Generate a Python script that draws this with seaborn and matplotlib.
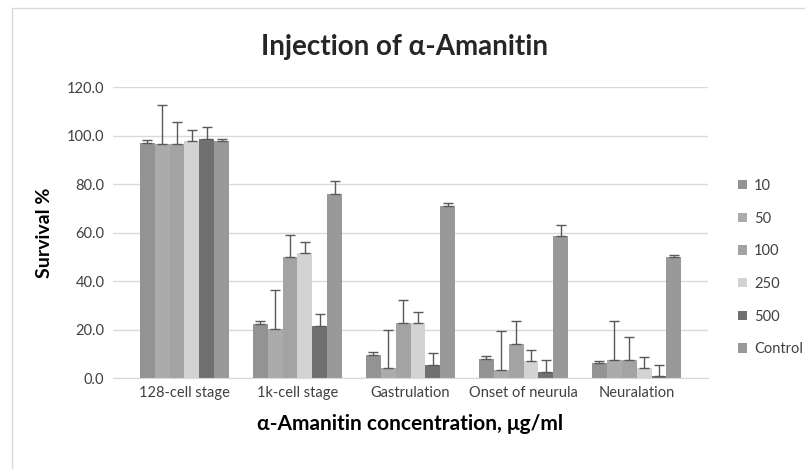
"""
Survival after injection of alpha-Amanitin, grouped bars with upper error bars.
"""

import numpy as np
import pandas as pd
import seaborn as sns
import matplotlib.pyplot as plt
from matplotlib.patches import Rectangle

stages = ['128-cell stage', '1k-cell stage', 'Gastrulation',
          'Onset of neurula', 'Neuralation']
doses = ['10', '50', '100', '250', '500', 'Control']

# survival % per dose, one value per stage
surv_10 = [96.9, 22.1, 9.5, 8.0, 6.0]
surv_50 = [96.6, 20.3, 4.0, 3.3, 7.4]
surv_100 = [96.6, 49.8, 22.7, 14.2, 7.4]
surv_250 = [97.7, 51.7, 22.7, 7.0, 4.3]
surv_500 = [98.7, 21.6, 5.5, 2.6, 0.8]
surv_ctrl = [97.9, 76.0, 70.8, 58.8, 49.8]

# upper error (sd)
err_10 = [1.2, 1.5, 1.2, 1.0, 0.9]
err_50 = [16.0, 16.0, 16.0, 16.3, 16.0]
err_100 = [9.0, 9.4, 9.5, 9.4, 9.5]
err_250 = [4.7, 4.6, 4.7, 4.7, 4.5]
err_500 = [4.7, 4.8, 4.7, 4.8, 4.7]
err_ctrl = [0.8, 5.1, 1.6, 4.2, 0.9]

survival = [surv_10, surv_50, surv_100, surv_250, surv_500, surv_ctrl]
errors = [err_10, err_50, err_100, err_250, err_500, err_ctrl]
colors = ['#939393', '#ababab', '#a3a3a3', '#d3d3d3', '#707070', '#999999']

rows = []
for dose, vals in zip(doses, survival):
    for stage, v in zip(stages, vals):
        rows.append({'stage': stage, 'dose': dose, 'survival': v})
df = pd.DataFrame(rows)

sns.set_style('white')
plt.rcParams['font.family'] = ['Lato', 'DejaVu Sans']

fig = plt.figure(figsize=(8.05, 4.69), dpi=100)
ax = fig.add_axes([0.140, 0.194, 0.740, 0.620])

sns.barplot(data=df, x='stage', y='survival', hue='dose', order=stages,
            hue_order=doses, palette=colors, errorbar=None, width=0.79,
            saturation=1, linewidth=0, edgecolor='none', ax=ax)

# upper-only error bars on each bar
for cont, err in zip(ax.containers, errors):
    xs = [p.get_x() + p.get_width() / 2 for p in cont.patches]
    ys = [p.get_height() for p in cont.patches]
    ax.errorbar(xs, ys, yerr=[np.zeros(len(err)), err], fmt='none',
                ecolor='#595959', elinewidth=1.0, capsize=3.5, capthick=1.0)

ax.set_ylim(0, 120)
ax.set_yticks(np.arange(0, 121, 20))
ax.set_yticklabels([f'{v:.1f}' for v in np.arange(0, 121, 20)])
ax.yaxis.grid(True, color='#d9d9d9', linewidth=1)
ax.set_axisbelow(True)
for side in ['top', 'right', 'left']:
    ax.spines[side].set_visible(False)
ax.spines['bottom'].set_color('#d9d9d9')
ax.tick_params(axis='both', length=0, labelsize=10.5, colors='#404040', pad=6)

ax.set_xlabel('α-Amanitin concentration, μg/ml', fontsize=15,
              fontweight='bold', color='black', labelpad=10)
ax.set_ylabel('Survival %', fontsize=14, fontweight='bold', color='black',
              labelpad=10)
fig.text(0.503, 0.900, 'Injection of α-Amanitin', ha='center', va='center',
         fontsize=20, fontweight='bold')

leg = ax.legend(loc='center left', bbox_to_anchor=(1.05, 0.38),
                frameon=False, borderaxespad=0, borderpad=0,
                fontsize=10.5, handlelength=0.6, handleheight=0.6,
                labelspacing=1.28, handletextpad=0.5)
for t in leg.get_texts():
    t.set_color('#404040')

fig.patches.append(Rectangle((12 / 805, -0.01), 1.0, 1 - 8 / 469 + 0.01,
                             transform=fig.transFigure, fill=False,
                             edgecolor='#d9d9d9', linewidth=1))

fig.savefig('out.png', dpi=100)
